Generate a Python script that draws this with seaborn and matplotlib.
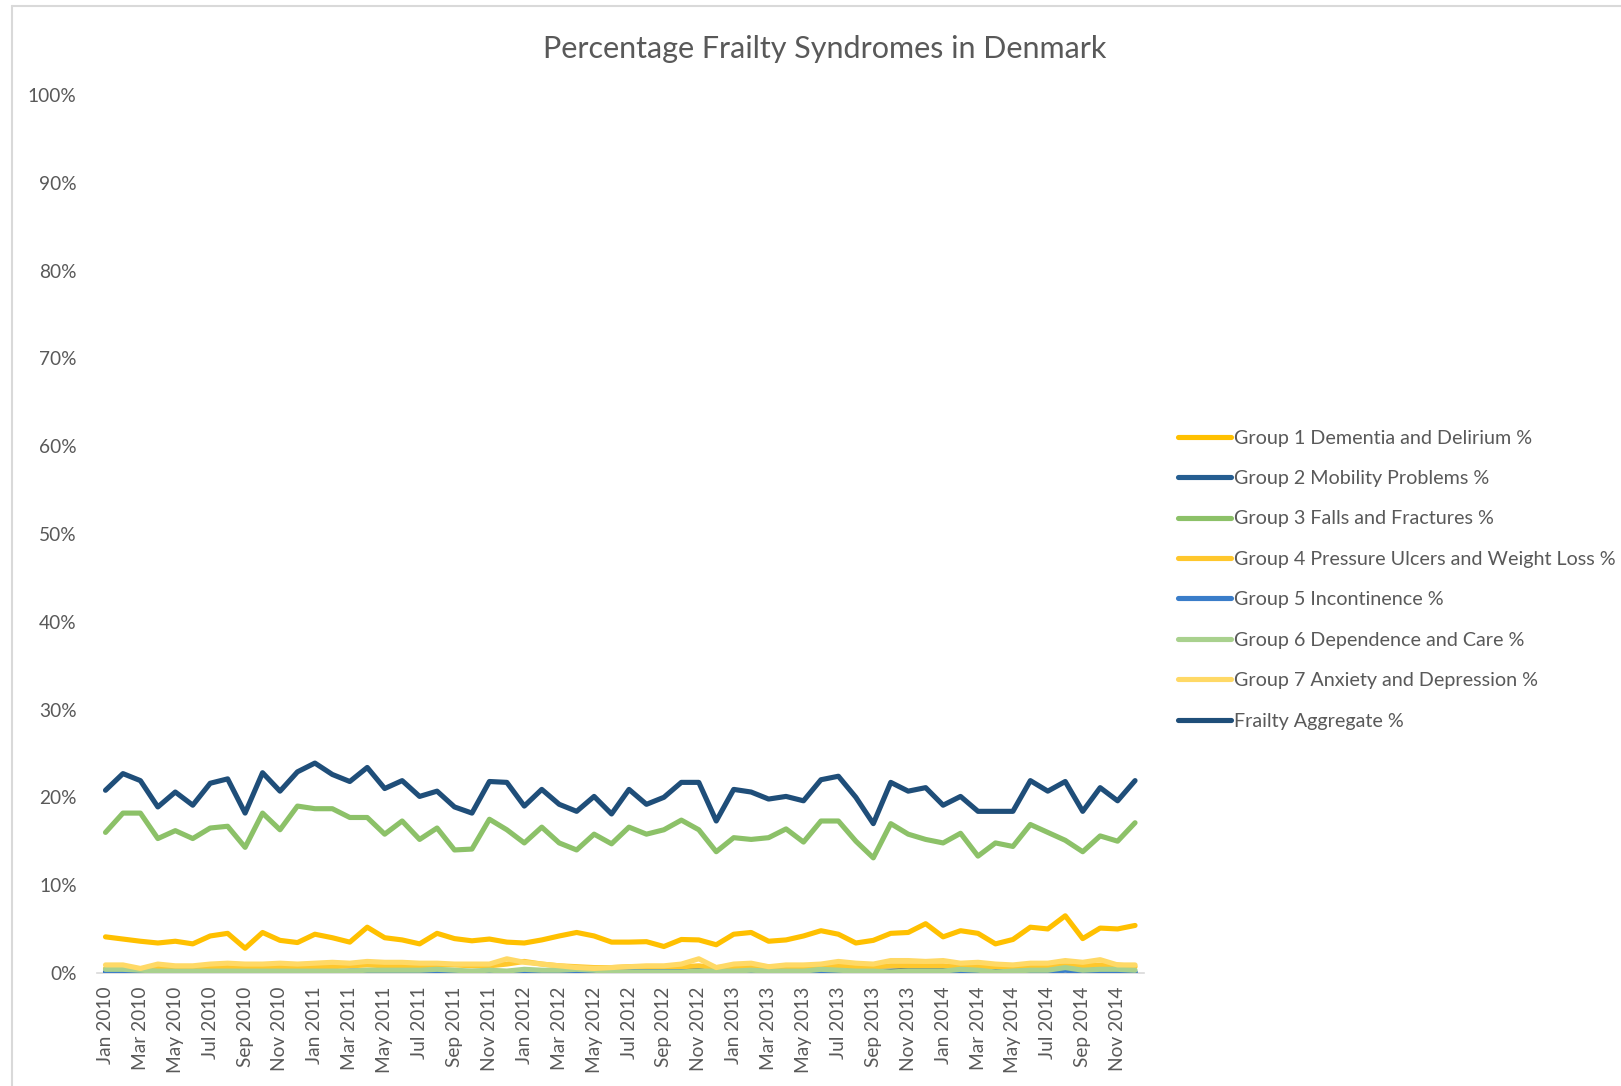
import numpy as np
import pandas as pd
import matplotlib
matplotlib.use("Agg")
import matplotlib.pyplot as plt
import seaborn as sns
from matplotlib.lines import Line2D

# ---------------- data ----------------
month_names = ["Jan", "Feb", "Mar", "Apr", "May", "Jun",
               "Jul", "Aug", "Sep", "Oct", "Nov", "Dec"]
years = [2010, 2011, 2012, 2013, 2014]
months = [f"{m} {y}" for y in years for m in month_names]

group1_dementia = [4.1, 3.85, 3.6, 3.4, 3.6, 3.3, 4.2, 4.5, 2.8, 4.6, 3.7, 3.45,
                   4.4, 4.0, 3.5, 5.2, 4.0, 3.75, 3.3, 4.5, 3.9, 3.65, 3.85, 3.5,
                   3.4, 3.75, 4.2, 4.6, 4.2, 3.5, 3.5, 3.55, 3.0, 3.8, 3.75, 3.2,
                   4.4, 4.6, 3.6, 3.75, 4.2, 4.8, 4.4, 3.4, 3.7, 4.5, 4.6, 5.6,
                   4.1, 4.8, 4.5, 3.3, 3.8, 5.2, 5.0, 6.5, 3.9, 5.1, 5.0, 5.4]
group2_mobility = [0.1, 0.1, 0.05, 0.1, 0.1, 0.1, 0.1, 0.1, 0.1, 0.1, 0.1, 0.1,
                   0.1, 0.1, 0.2, 0.2, 0.1, 0.1, 0.1, 0.1, 0.1, 0.1, 0.1, 0.1,
                   0.1, 0.2, 0.2, 0.3, 0.3, 0.3, 0.4, 0.3, 0.4, 0.3, 0.3, 0.2,
                   0.2, 0.2, 0.2, 0.2, 0.2, 0.3, 0.3, 0.2, 0.2, 0.2, 0.3, 0.3,
                   0.3, 0.2, 0.3, 0.2, 0.2, 0.3, 0.4, 0.6, 0.4, 0.5, 0.5, 0.1]
group3_falls = [16.0, 18.2, 18.2, 15.3, 16.2, 15.3, 16.5, 16.7, 14.3, 18.2, 16.3, 19.0,
                18.7, 18.7, 17.7, 17.7, 15.8, 17.3, 15.2, 16.5, 14.0, 14.1, 17.5, 16.3,
                14.8, 16.6, 14.8, 14.0, 15.8, 14.7, 16.6, 15.8, 16.3, 17.4, 16.3, 13.8,
                15.4, 15.2, 15.4, 16.4, 14.9, 17.3, 17.3, 15.0, 13.1, 17.0, 15.8, 15.2,
                14.8, 15.9, 13.3, 14.8, 14.4, 16.9, 16.0, 15.1, 13.8, 15.6, 15.0, 17.1]
group4_pressure = [0.5, 0.5, 0.3, 0.5, 0.4, 0.4, 0.6, 0.6, 0.5, 0.6, 0.6, 0.6,
                   0.7, 0.7, 0.8, 0.9, 0.8, 0.8, 0.8, 0.9, 0.9, 0.8, 0.8, 1.0,
                   1.3, 1.0, 0.8, 0.7, 0.6, 0.6, 0.7, 0.7, 0.7, 0.7, 0.8, 0.6,
                   0.7, 0.8, 0.7, 0.7, 0.7, 0.8, 0.8, 0.7, 0.7, 0.8, 0.8, 0.8,
                   0.8, 0.7, 0.7, 0.7, 0.7, 0.8, 0.8, 0.8, 0.8, 0.9, 0.9, 0.7]
group5_incontinence = [0.0, 0.0, 0.0, 0.0, 0.0, 0.0, 0.0, 0.0, 0.0, 0.0, 0.0, 0.0,
                       0.0, 0.0, 0.0, 0.1, 0.1, 0.0, 0.0, 0.0, 0.0, 0.0, 0.0, 0.0,
                       0.0, 0.0, 0.0, 0.0, 0.0, 0.1, 0.1, 0.1, 0.1, 0.1, 0.0, 0.0,
                       0.0, 0.0, 0.0, 0.1, 0.1, 0.1, 0.1, 0.1, 0.0, 0.0, 0.0, 0.0,
                       0.0, 0.0, 0.1, 0.0, 0.0, 0.1, 0.1, 0.3, 0.1, 0.1, 0.1, 0.0]
group6_dependence = [0.4, 0.4, 0.3, 0.2, 0.2, 0.2, 0.2, 0.2, 0.2, 0.2, 0.2, 0.2,
                     0.2, 0.2, 0.2, 0.3, 0.3, 0.3, 0.3, 0.4, 0.3, 0.2, 0.3, 0.2,
                     0.4, 0.3, 0.3, 0.4, 0.3, 0.1, 0.1, 0.1, 0.1, 0.1, 0.2, 0.2,
                     0.2, 0.3, 0.2, 0.2, 0.2, 0.4, 0.3, 0.2, 0.2, 0.1, 0.2, 0.2,
                     0.2, 0.4, 0.3, 0.1, 0.2, 0.3, 0.3, 0.6, 0.3, 0.4, 0.4, 0.3]
group7_anxiety = [0.9, 0.9, 0.5, 1.0, 0.8, 0.8, 1.0, 1.1, 1.0, 1.0, 1.1, 1.0,
                  1.1, 1.2, 1.1, 1.3, 1.2, 1.2, 1.1, 1.1, 1.0, 1.0, 1.0, 1.6,
                  1.2, 1.0, 0.8, 0.6, 0.5, 0.6, 0.7, 0.8, 0.8, 1.0, 1.6, 0.6,
                  1.0, 1.1, 0.7, 0.9, 0.9, 1.0, 1.3, 1.1, 1.0, 1.4, 1.4, 1.3,
                  1.4, 1.1, 1.2, 1.0, 0.9, 1.1, 1.1, 1.4, 1.2, 1.5, 0.9, 0.9]
frailty_aggregate = [20.8, 22.7, 21.9, 18.9, 20.6, 19.1, 21.6, 22.1, 18.2, 22.8, 20.7, 22.9,
                     23.9, 22.6, 21.8, 23.4, 21.0, 21.9, 20.1, 20.7, 18.9, 18.2, 21.8, 21.7,
                     19.0, 20.9, 19.2, 18.4, 20.1, 18.1, 20.9, 19.2, 20.0, 21.7, 21.7, 17.3,
                     20.9, 20.6, 19.8, 20.1, 19.6, 22.0, 22.4, 20.0, 17.0, 21.7, 20.7, 21.1,
                     19.1, 20.1, 18.4, 18.4, 18.4, 21.9, 20.7, 21.8, 18.4, 21.1, 19.6, 21.9]

series_names = ["Group 1 Dementia and Delirium %",
                "Group 2 Mobility Problems %",
                "Group 3 Falls and Fractures %",
                "Group 4 Pressure Ulcers and Weight Loss %",
                "Group 5 Incontinence %",
                "Group 6 Dependence and Care %",
                "Group 7 Anxiety and Depression %",
                "Frailty Aggregate %"]
series_values = [group1_dementia, group2_mobility, group3_falls, group4_pressure,
                 group5_incontinence, group6_dependence, group7_anxiety,
                 frailty_aggregate]
colors = ["#FFC000", "#255E91", "#8CC168", "#FFC72C",
          "#3A7DC9", "#A9D18E", "#FFD966", "#1F4E79"]

title_text = "Percentage Frailty Syndromes in Denmark"
y_ticks = [0, 10, 20, 30, 40, 50, 60, 70, 80, 90, 100]

# ---------------- build long table ----------------
rows = []
for name, vals in zip(series_names, series_values):
    for i, v in enumerate(vals):
        rows.append({"idx": i, "month": months[i], "value": v, "series": name})
df = pd.DataFrame(rows)

# ---------------- plot ----------------
sns.set_theme(style="white")
plt.rcParams["font.family"] = ["Lato", "DejaVu Sans"]
text_color = "#595959"

fig = plt.figure(figsize=(16.21, 10.86), dpi=100)
ax = fig.add_axes([0.0597, 0.1042, 0.7056 - 0.0597, 0.9124 - 0.1042])

# draw in an order so the aggregate and main series sit on top
draw_order = [4, 1, 5, 3, 6, 0, 2, 7]
for k in draw_order:
    sub = df[df["series"] == series_names[k]]
    sns.lineplot(data=sub, x="idx", y="value", ax=ax, color=colors[k],
                 linewidth=3.7, label=series_names[k], legend=False,
                 solid_capstyle="round", solid_joinstyle="round", zorder=3 + k)

ax.set_xlim(-0.5, len(months) - 0.5)
ax.set_ylim(0, 100)
ax.set_yticks(y_ticks)
ax.set_yticklabels([f"{t}%" for t in y_ticks], color=text_color, fontsize=13.8)
ax.set_xticks(range(0, len(months), 2))
ax.set_xticklabels(months[::2], rotation=90, color=text_color, fontsize=13.8)
ax.tick_params(axis="x", length=0, pad=10)
ax.tick_params(axis="y", length=0, pad=14.5)
ax.set_xlabel("")
ax.set_ylabel("")
for side in ["top", "right", "left"]:
    ax.spines[side].set_visible(False)
ax.spines["bottom"].set_color("#D9D9D9")
ax.spines["bottom"].set_linewidth(1.2)
ax.grid(False)

fig.suptitle(title_text, x=0.5085, y=0.955, fontsize=22, color=text_color,
             va="center")

handles = [Line2D([0], [0], color=c, linewidth=3.7, solid_capstyle="round")
           for c in colors]
fig.legend(handles, series_names, loc="upper left",
           bbox_to_anchor=(0.7267, 0.6045), frameon=False, fontsize=14.2,
           handlelength=2.7, handletextpad=0.12, labelspacing=1.19,
           borderpad=0, borderaxespad=0, labelcolor=text_color)

# chart-area border (top and left)
fig.add_artist(Line2D([12 / 1621, 1.0], [1 - 6 / 1086, 1 - 6 / 1086],
                      transform=fig.transFigure, color="#D9D9D9", linewidth=1.5))
fig.add_artist(Line2D([12 / 1621, 12 / 1621], [0.0, 1 - 6 / 1086],
                      transform=fig.transFigure, color="#D9D9D9", linewidth=1.5))

fig.savefig("out.png", dpi=100)
